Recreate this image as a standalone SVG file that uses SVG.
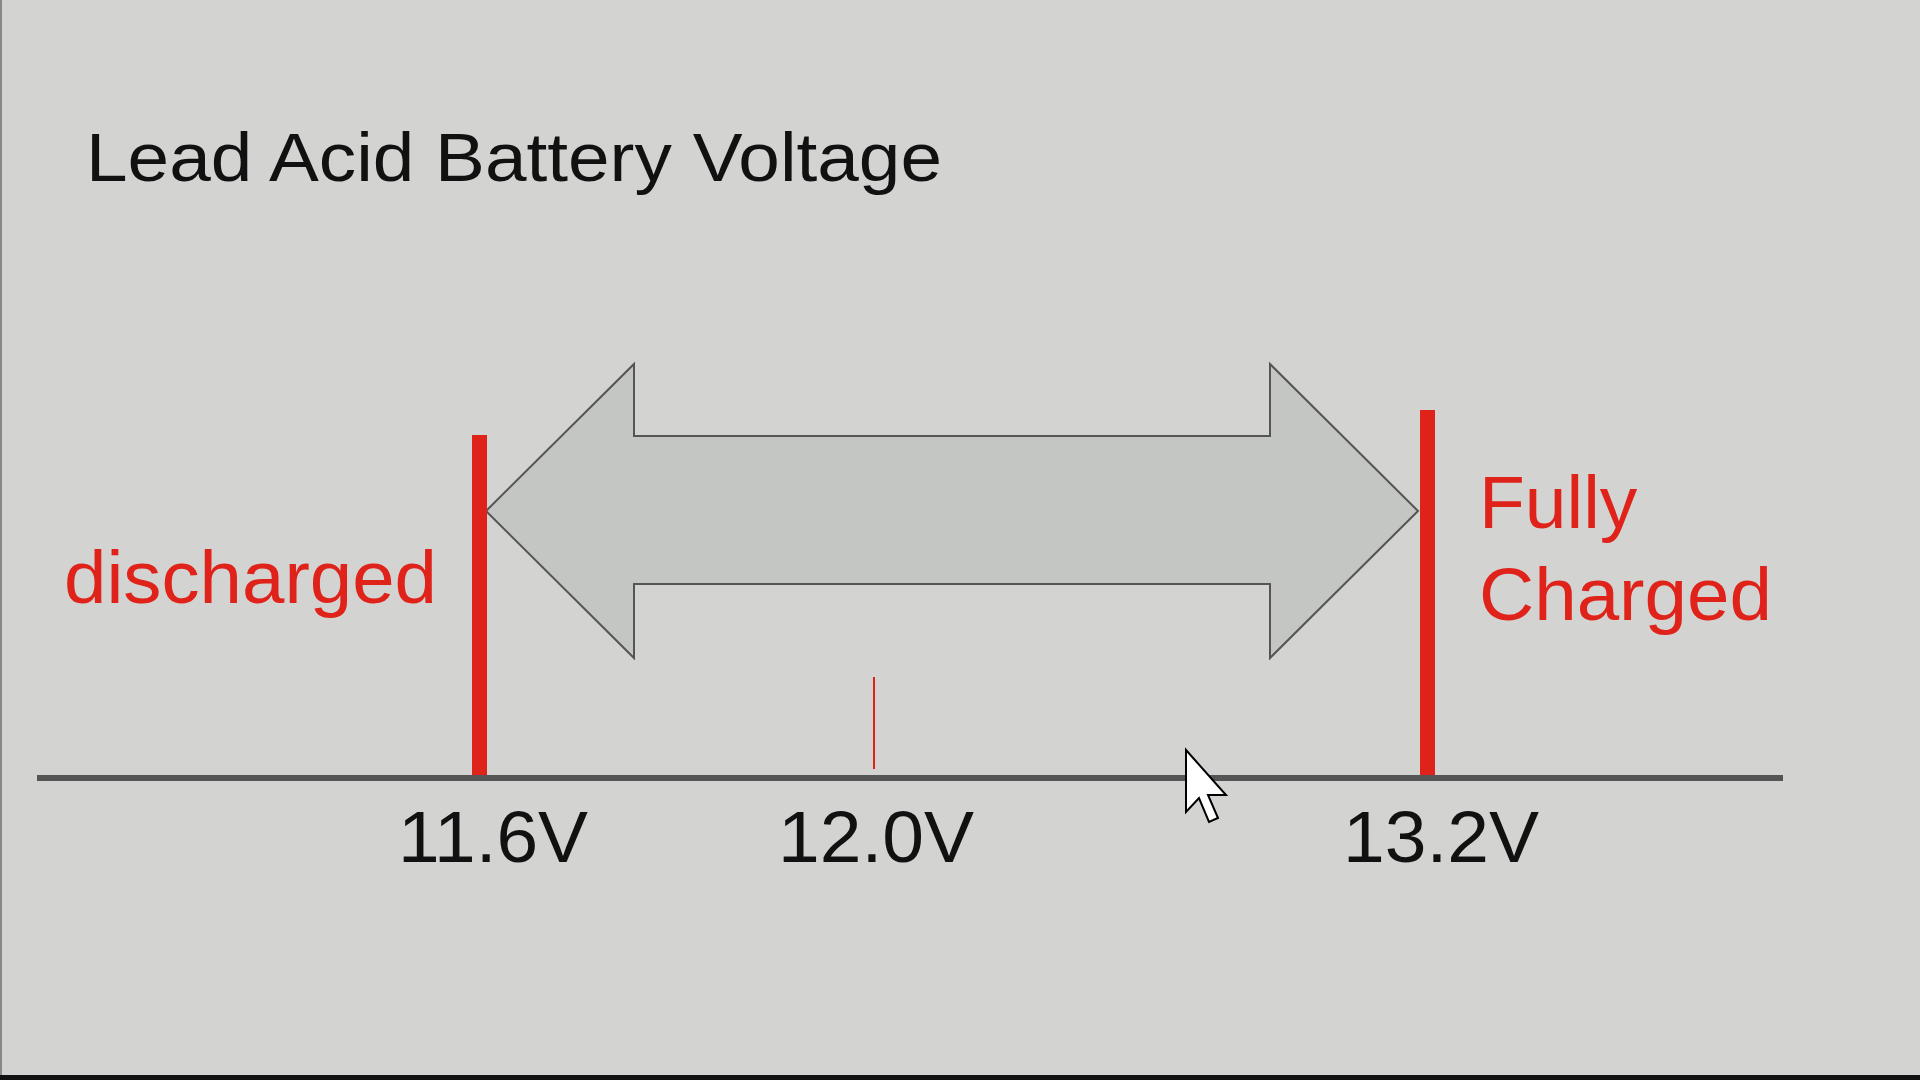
<svg xmlns="http://www.w3.org/2000/svg" width="1920" height="1080" viewBox="0 0 1920 1080">
<style>
.t{font-family:"Liberation Sans",Arial,sans-serif}
.red{fill:#e0231a}
.num{font-size:73px;fill:#111}
.lbl{font-size:75px;fill:#e0231a}
</style>
<rect width="1920" height="1080" fill="#d3d3d1"/>
<rect x="0" y="0" width="2" height="1080" fill="#888"/>
<rect x="0" y="1075" width="1920" height="5" fill="#111"/>
<g id="title"><text class="t" x="86" y="181" font-size="69" fill="#111" textLength="856" lengthAdjust="spacingAndGlyphs">Lead Acid Battery Voltage</text></g>
<g id="axis"><line x1="37" y1="778" x2="1783" y2="778" stroke="#555" stroke-width="6"/></g>
<g id="connectors">
<polygon points="486,511 634,364 634,436 1270,436 1270,364 1418,511 1270,658 1270,584 634,584 634,658" fill="#c4c6c3" stroke="#555" stroke-width="2"/>
</g>
<g id="bar-discharged"><rect class="red" x="472" y="435" width="15" height="340"/></g>
<g id="bar-charged"><rect class="red" x="1420" y="410" width="15" height="365"/></g>
<g id="tick-12"><rect class="red" x="873" y="677" width="2" height="92"/></g>
<g id="label-discharged"><text class="t lbl" x="64" y="603" textLength="373" lengthAdjust="spacingAndGlyphs">discharged</text></g>
<g id="label-charged"><text class="t lbl" x="1479" y="528">Fully</text><text class="t lbl" x="1479" y="620" textLength="293" lengthAdjust="spacingAndGlyphs">Charged</text></g>
<g id="v116"><text class="t num" x="398" y="862" textLength="190" lengthAdjust="spacingAndGlyphs">11.6V</text></g>
<g id="v120"><text class="t num" x="778" y="862" textLength="196" lengthAdjust="spacingAndGlyphs">12.0V</text></g>
<g id="v132"><text class="t num" x="1343" y="862" textLength="196" lengthAdjust="spacingAndGlyphs">13.2V</text></g>
<g id="cursor"><polygon points="1186,750 1186,812 1199,798 1209,822 1218,818 1208,795 1226,795" fill="#fff" stroke="#000" stroke-width="2"/></g>
</svg>
